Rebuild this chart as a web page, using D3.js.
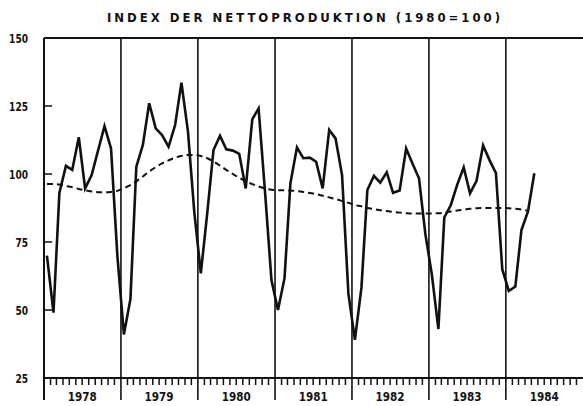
<!DOCTYPE html>
<html>
<head>
<meta charset="utf-8">
<script src="https://cdn.jsdelivr.net/npm/d3@7/dist/d3.min.js"></script>
<style>
    body { margin: 0; background: #fff; }
    text { font-family: "DejaVu Sans Condensed", "DejaVu Sans", sans-serif; font-weight: bold; fill: #111; }
</style>
</head>
<body>
<script>
"use strict";

// monthly index, Jan 1978 .. May 1984
const index1978 = [70, 49, 93, 103, 101.5, 113.5, 94.7, 99.6, 108.8, 117.6, 109.4, 70]
const index1979 = [41, 54, 102.7, 110.7, 126, 116.8, 114.3, 110, 118, 133.6, 115.6, 86]
const index1980 = [63.5, 86, 108.8, 114, 109.1, 108.6, 107.4, 94.7, 120.1, 124.1, 93, 61]
const index1981 = [50, 61.7, 96.6, 109.8, 105.8, 106, 104.5, 94.7, 116.2, 113.1, 99.6, 56]
const index1982 = [39, 58.3, 94.1, 99.3, 96.8, 100.6, 93.1, 93.9, 109.4, 103.9, 98.4, 78]
const index1983 = [63, 43, 84, 88.6, 96, 102.4, 92.9, 97.5, 110.5, 105.2, 100.3, 65]
const index1984 = [57, 58.6, 79.4, 86.2, 100.3]

// trend (dashed), Jan 1978 .. Apr 1984
const trend1978 = [96.3, 96.3, 96.1, 95.6, 95.1, 94.5, 94.0, 93.6, 93.3, 93.3, 93.4, 93.8]
const trend1979 = [94.8, 95.9, 97.3, 99.1, 100.9, 102.5, 103.9, 105.0, 106.0, 106.6, 107.0, 107.0]
const trend1980 = [106.6, 105.8, 104.6, 103.1, 101.5, 100.0, 98.6, 97.3, 96.3, 95.4, 94.7, 94.2]
const trend1981 = [94.0, 94.0, 93.9, 93.7, 93.4, 93.0, 92.6, 92.0, 91.4, 90.8, 90.1, 89.4]
const trend1982 = [88.6, 88.1, 87.5, 87.1, 86.7, 86.4, 86.1, 85.8, 85.6, 85.5, 85.5, 85.5]
const trend1983 = [85.5, 85.6, 85.8, 86.2, 86.6, 86.9, 87.2, 87.4, 87.5, 87.5, 87.5, 87.5]
const trend1984 = [87.4, 87.2, 86.9, 86.5]

const years = [1978, 1979, 1980, 1981, 1982, 1983, 1984]
const yTicks = [25, 50, 75, 100, 125, 150]
const title = "INDEX DER NETTOPRODUKTION (1980=100)"

;(function(){
    const m = { width: 583, height: 406, left: 44, right: 583, top: 38, bottom: 378, lineEnd: 400 }

    const svg = d3.select("body").append("svg")
        .attr("width", m.width)
        .attr("height", m.height)

    // turn a flat monthly array into {date, value}
    function toMonthly(values) {
        return values.map((v, i) => ({ date: new Date(1978, i, 15), value: v }))
    }
    const indexData = toMonthly([].concat(index1978, index1979, index1980, index1981, index1982, index1983, index1984))
    const trendData = toMonthly([].concat(trend1978, trend1979, trend1980, trend1981, trend1982, trend1983, trend1984))

    const x = d3.scaleTime()
        .domain([new Date(years[0], 0, 1), new Date(years[years.length - 1] + 1, 0, 1)])
        .range([m.left, m.right])
    const y = d3.scaleLinear()
        .domain([25, 150])
        .range([m.bottom, m.top])

    // title
    svg.append("text")
        .attr("x", 107)
        .attr("y", 22)
        .attr("textLength", 393)
        .attr("lengthAdjust", "spacing")
        .style("font-size", "13px")
        .text(title)

    // frame: top line and bottom axis line
    svg.append("line")
        .attr("x1", m.left).attr("x2", m.right)
        .attr("y1", y(150)).attr("y2", y(150))
        .attr("stroke", "#111").attr("stroke-width", 1.8)
    svg.append("line")
        .attr("x1", m.left).attr("x2", m.right)
        .attr("y1", y(25)).attr("y2", y(25))
        .attr("stroke", "#111").attr("stroke-width", 1.8)

    // year separators (the first one is the y axis)
    const yearStarts = years.map((yr) => new Date(yr, 0, 1))
    svg.selectAll(".yearline")
        .data(yearStarts)
        .enter()
        .append("line")
            .attr("x1", (d) => x(d)).attr("x2", (d) => x(d))
            .attr("y1", m.top).attr("y2", m.lineEnd)
            .attr("stroke", "#111")
            .attr("stroke-width", (d, i) => i === 0 ? 2 : 1.6)

    // monthly ticks below the axis
    const months = d3.timeMonth.range(x.domain()[0], x.domain()[1]).filter((d) => d.getMonth() !== 0)
    svg.selectAll(".mtick")
        .data(months)
        .enter()
        .append("line")
            .attr("x1", (d) => x(d)).attr("x2", (d) => x(d))
            .attr("y1", y(25)).attr("y2", y(25) + 7)
            .attr("stroke", "#111")
            .attr("stroke-width", 1.5)

    // y ticks and labels
    svg.selectAll(".ytick")
        .data(yTicks.slice(1, -1))
        .enter()
        .append("line")
            .attr("x1", m.left).attr("x2", m.left + 8)
            .attr("y1", (d) => y(d)).attr("y2", (d) => y(d))
            .attr("stroke", "#111").attr("stroke-width", 1.5)
    svg.selectAll(".ylabel")
        .data(yTicks)
        .enter()
        .append("text")
            .attr("x", 28)
            .attr("y", (d) => y(d) + 4.5)
            .attr("text-anchor", "end")
            .attr("textLength", (d) => String(d).length * 6.3)
            .attr("lengthAdjust", "spacingAndGlyphs")
            .style("font-size", "12px")
            .text((d) => d)

    // year labels, centered in each year
    svg.selectAll(".xlabel")
        .data(years)
        .enter()
        .append("text")
            .attr("x", (d) => x(new Date(d, 6, 1)) - 14.5)
            .attr("y", 401)
            .attr("textLength", 29)
            .attr("lengthAdjust", "spacingAndGlyphs")
            .style("font-size", "13px")
            .text((d) => d)

    // dashed trend
    const line = d3.line()
        .x((d) => x(d.date))
        .y((d) => y(d.value))
    svg.append("path")
        .datum(trendData)
        .attr("d", line.curve(d3.curveMonotoneX))
        .attr("fill", "none")
        .attr("stroke", "#111")
        .attr("stroke-width", 2)
        .attr("stroke-dasharray", "6,4")

    // monthly index
    svg.append("path")
        .datum(indexData)
        .attr("d", d3.line().x((d) => x(d.date)).y((d) => y(d.value)))
        .attr("fill", "none")
        .attr("stroke", "#111")
        .attr("stroke-width", 2.6)
        .attr("stroke-linejoin", "miter")
})()
</script>
</body>
</html>
